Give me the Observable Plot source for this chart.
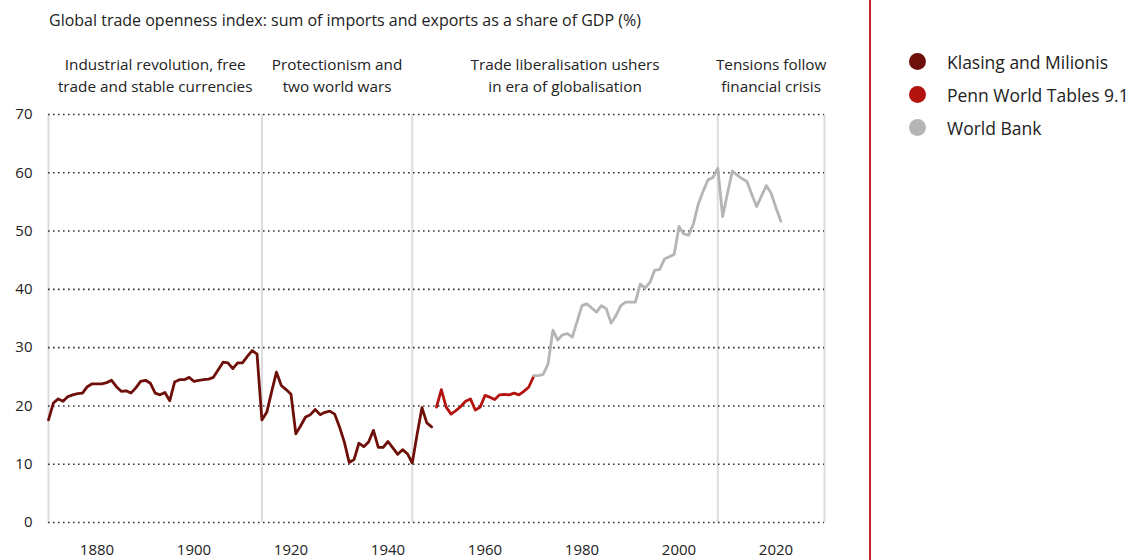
<!DOCTYPE html>
<html>
<head>
<meta charset="utf-8">
<script src="https://cdn.jsdelivr.net/npm/d3@7"></script>
<script src="https://cdn.jsdelivr.net/npm/@observablehq/plot@0.6"></script>
<style>
  body { margin: 0; background: #fff; font-family: "Open Sans", Roboto, sans-serif; color: #222; }
  #wrap { position: relative; width: 1133px; height: 560px; overflow: hidden; }
  #title { position: absolute; left: 49px; top: 9px; font-size: 16px; line-height: 22px; white-space: nowrap; }
  #chart { position: absolute; left: 0; top: 0; }
  #sep { position: absolute; left: 869px; top: 0; width: 1.5px; height: 560px; background: #c3262e; }
  #legend { position: absolute; left: 909px; top: 45px; font-size: 17.5px; white-space: nowrap; }
  .row { display: flex; align-items: center; height: 33px; white-space: nowrap; }
  .dot { width: 17px; height: 17px; border-radius: 50%; margin-right: 21px; flex: none; }
</style>
</head>
<body>
<div id="wrap">
  <div id="chart"></div>
  <div id="title"></div>
  <div id="sep"></div>
  <div id="legend"></div>
</div>
<script>
const titleText = "Global trade openness index: sum of imports and exports as a share of GDP (%)";

const seriesNames = ["Klasing and Milionis", "Penn World Tables 9.1", "World Bank"];
const seriesColors = ["#6e1009", "#b3130f", "#b5b5b5"];

const klasingStart = 1870;
const klasingValues = [
  17.6, 20.5, 21.2, 20.8, 21.6, 21.9, 22.1, 22.2, 23.3, 23.8,
  23.8, 23.8, 24.0, 24.4, 23.3, 22.5, 22.6, 22.2, 23.1, 24.2,
  24.4, 23.9, 22.2, 21.9, 22.3, 20.9, 24.1, 24.5, 24.5, 24.9,
  24.2, 24.4, 24.5, 24.6, 24.9, 26.2, 27.5, 27.4, 26.4, 27.4,
  27.4, 28.5, 29.5, 28.9, 17.6, 18.9, 22.4, 25.8, 23.5, 22.8,
  22.0, 15.2, 16.6, 18.1, 18.5, 19.4, 18.5, 18.9, 19.1, 18.6,
  16.4, 13.8, 10.3, 10.8, 13.6, 13.0, 13.8, 15.8, 12.9, 12.9,
  13.9, 12.8, 11.7, 12.5, 11.8, 10.2, 15.1, 19.7, 17.1, 16.4
];

const pennStart = 1950;
const pennValues = [
  19.8, 22.8, 19.8, 18.6, 19.2, 19.9, 20.8, 21.2, 19.3, 19.8,
  21.8, 21.5, 21.1, 21.9, 22.0, 21.9, 22.2, 21.9, 22.5, 23.2,
  25.0
];

const wbStart = 1970;
const wbValues = [
  25.2, 25.2, 25.4, 27.2, 33.0, 31.3, 32.2, 32.4, 31.8, 34.5,
  37.2, 37.5, 36.8, 36.1, 37.2, 36.7, 34.2, 35.5, 37.2, 37.8,
  37.8, 37.8, 40.9, 40.2, 41.2, 43.3, 43.4, 45.2, 45.6, 46.0,
  50.8, 49.5, 49.3, 51.3, 54.7, 56.9, 58.8, 59.2, 60.8, 52.5,
  56.5, 60.3, 59.6, 59.0, 58.5, 56.3, 54.2, 56.0, 57.8, 56.5,
  54.0, 51.7
];

const periodBreaks = [1870, 1914, 1945, 2008, 2030];
const periodLabels = [
  "Industrial revolution, free\ntrade and stable currencies",
  "Protectionism and\ntwo world wars",
  "Trade liberalisation ushers\nin era of globalisation",
  "Tensions follow\nfinancial crisis"
];

const yTicks = [0, 10, 20, 30, 40, 50, 60, 70];
const xTicks = [1880, 1900, 1920, 1940, 1960, 1980, 2000, 2020];

const toRows = (start, vals, s) => vals.map((v, i) => ({year: start + i, value: v, series: s}));
const klasing = toRows(klasingStart, klasingValues, seriesNames[0]);
const penn = toRows(pennStart, pennValues, seriesNames[1]);
const wb = toRows(wbStart, wbValues, seriesNames[2]);

const periods = periodLabels.map((label, i) => ({
  mid: (periodBreaks[i] + periodBreaks[i + 1]) / 2,
  label
}));

const font = "'Open Sans', Roboto, sans-serif";

const chart = Plot.plot({
  width: 870,
  height: 560,
  marginLeft: 48,
  marginRight: 46,
  marginTop: 114,
  marginBottom: 38,
  style: {fontFamily: font, fontSize: "15px", color: "#222", background: "transparent"},
  x: {domain: [1870, 2030], ticks: xTicks, tickFormat: d => String(d), tickSize: 0, tickPadding: 22, label: null},
  y: {domain: [0, 70], ticks: yTicks, tickSize: 0, tickPadding: 16, label: null},
  color: {domain: seriesNames, range: seriesColors},
  marks: [
    Plot.ruleX(periodBreaks, {y1: 0, y2: 70, stroke: "#dcdcdc", strokeWidth: 2}),
    Plot.ruleY(yTicks, {x1: 1870, x2: 2030, stroke: "#333", strokeWidth: 1.6, strokeDasharray: "1.6,3.4"}),
    Plot.text(periods, {x: "mid", y: 77.0, text: "label", lineAnchor: "middle", lineHeight: 1.45, fontSize: 15.3, fill: "#222", textAnchor: "middle"}),
    Plot.line(klasing, {x: "year", y: "value", stroke: "series", strokeWidth: 2.8, strokeLinejoin: "round"}),
    Plot.line(penn, {x: "year", y: "value", stroke: "series", strokeWidth: 2.8, strokeLinejoin: "round"}),
    Plot.line(wb, {x: "year", y: "value", stroke: "series", strokeWidth: 2.8, strokeLinejoin: "round"})
  ]
});
document.getElementById("chart").appendChild(chart);
document.getElementById("title").textContent = titleText;

const legend = document.getElementById("legend");
seriesNames.forEach((n, i) => {
  const row = document.createElement("div");
  row.className = "row";
  const dot = document.createElement("span");
  dot.className = "dot";
  dot.style.background = seriesColors[i];
  const lab = document.createElement("span");
  lab.textContent = n;
  row.appendChild(dot);
  row.appendChild(lab);
  legend.appendChild(row);
});
</script>
</body>
</html>
